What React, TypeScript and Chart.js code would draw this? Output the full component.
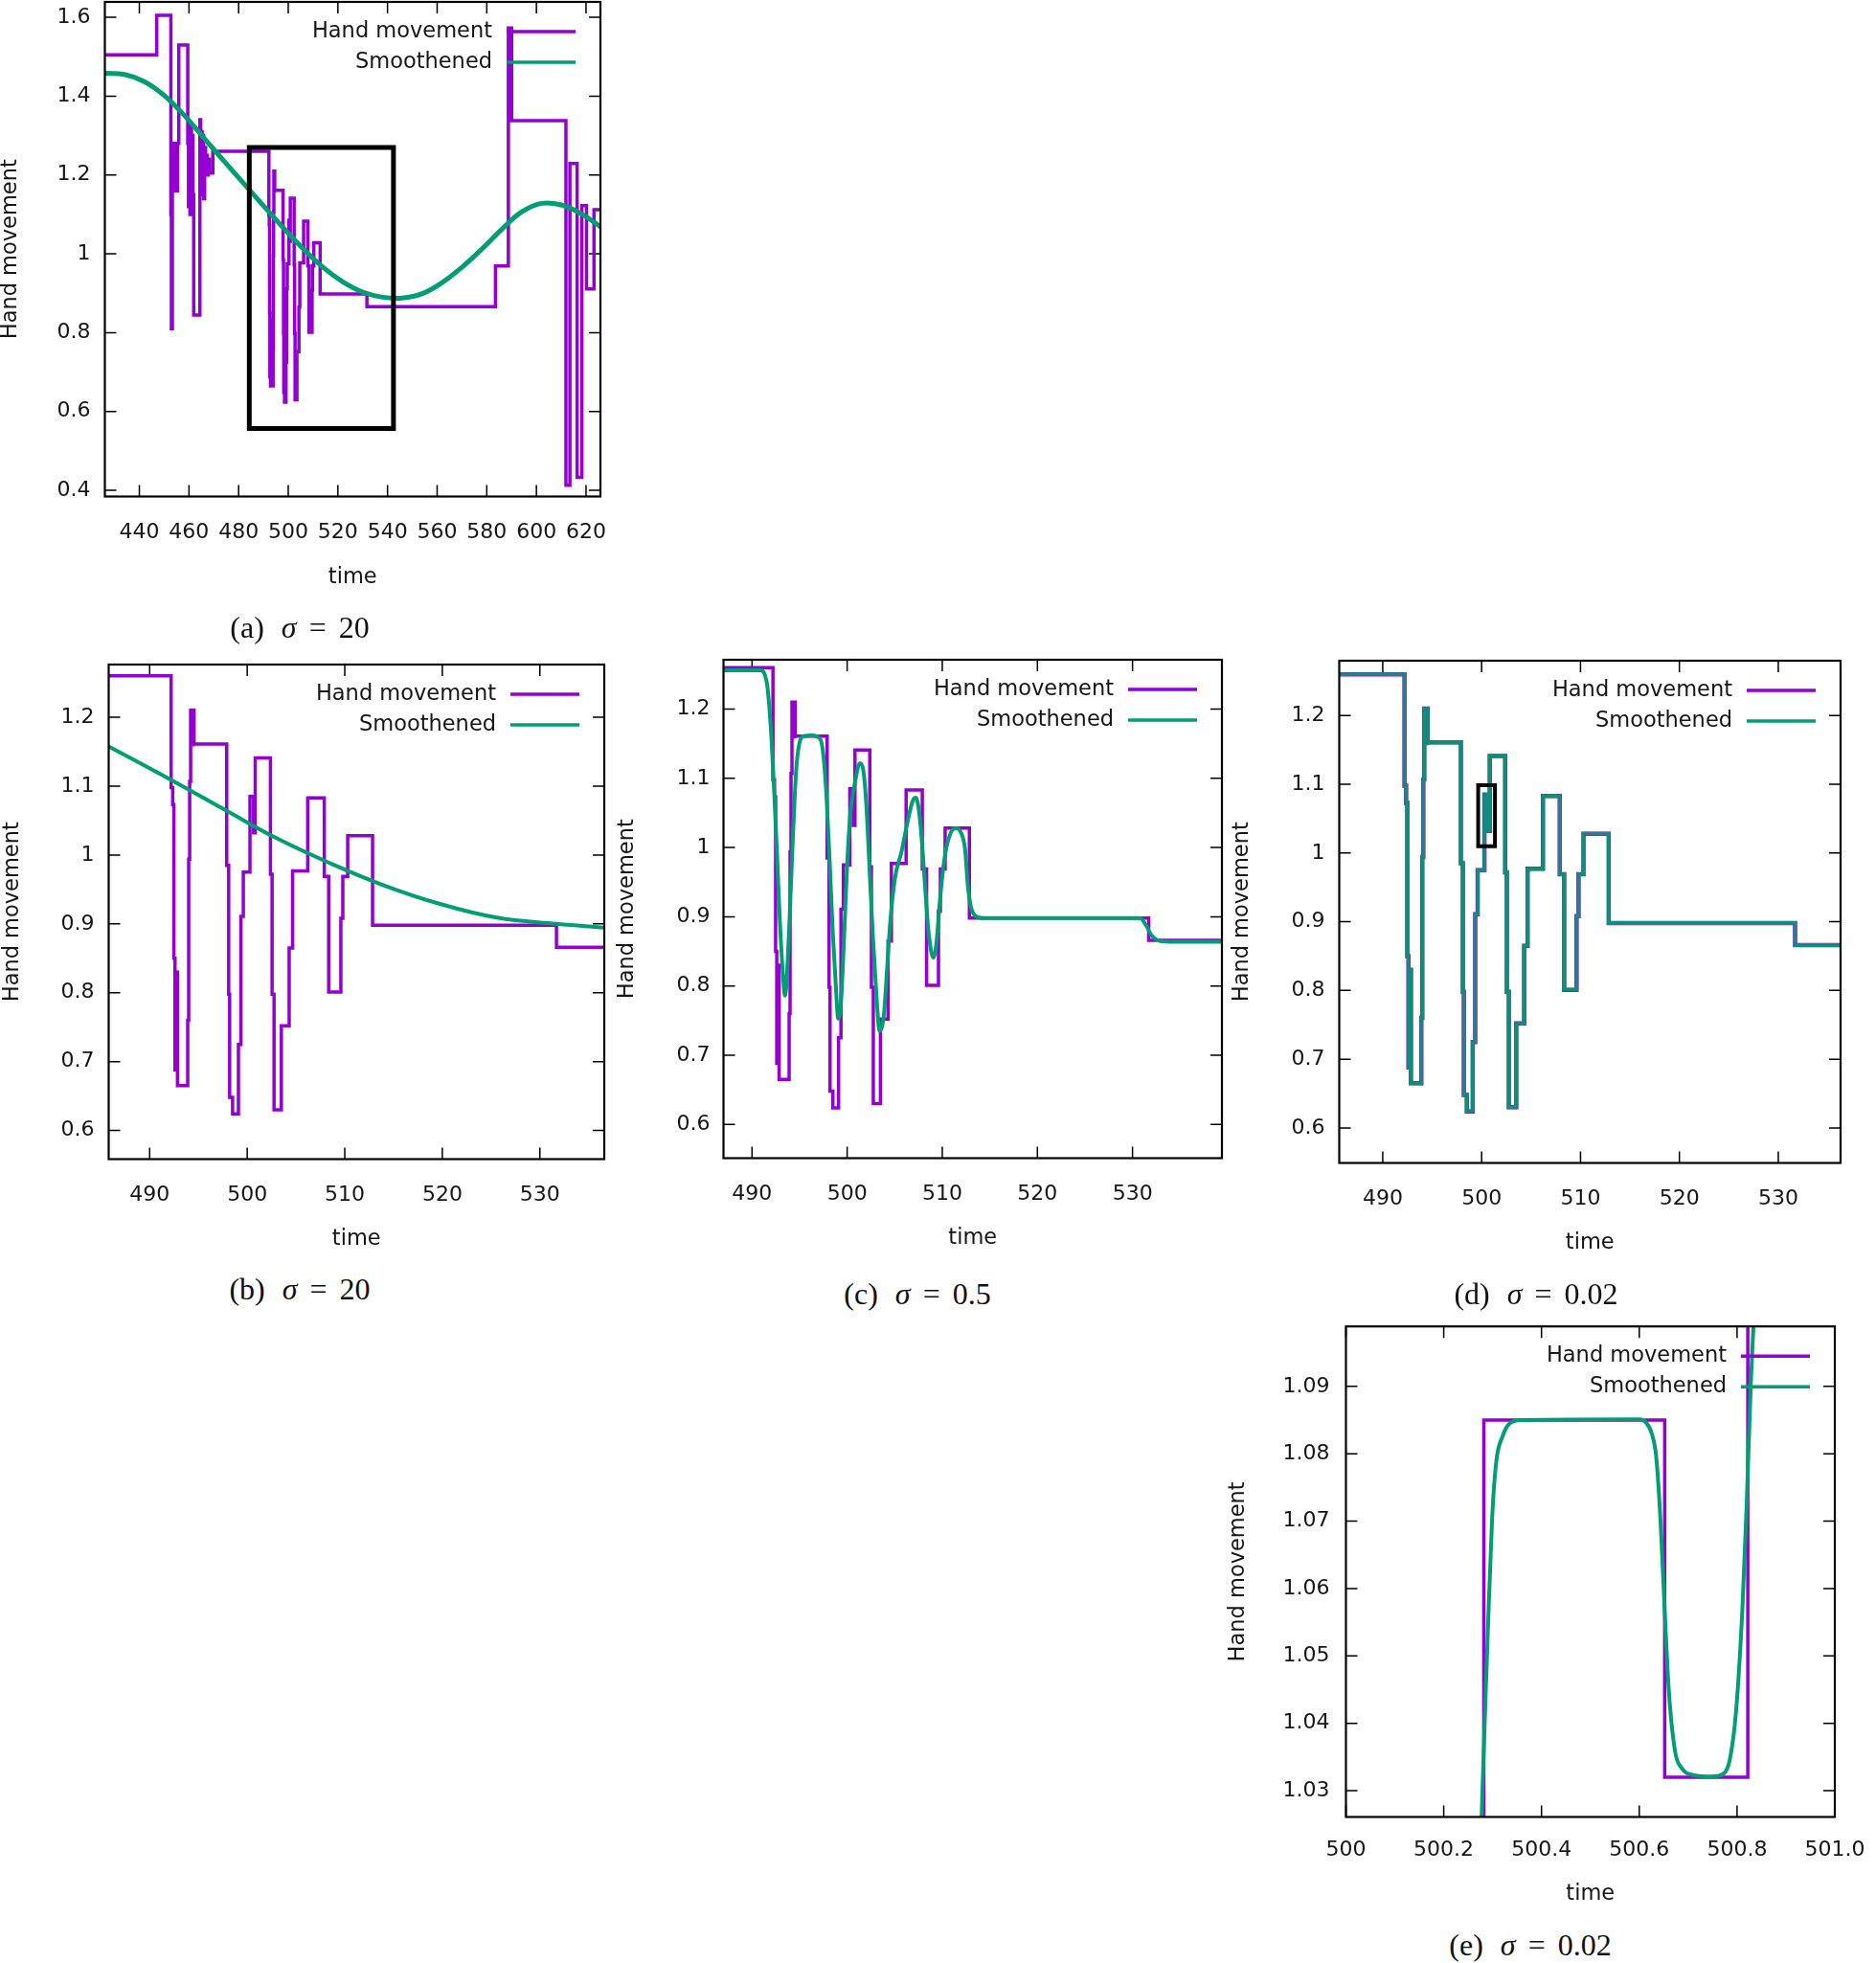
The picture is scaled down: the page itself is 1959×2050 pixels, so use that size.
import React, { useEffect, useRef } from 'react';
import { Chart, registerables } from 'chart.js';

Chart.register(...registerables);

const PURPLE = '#9400D3';
const GREEN = '#009E73';
const GREEN_OVER = 'rgba(0, 158, 115, 0.88)';
const TEXT = '#161616';
const FONT = '"DejaVu Sans", Verdana, sans-serif';

// ---- data -------------------------------------------------------------
// Hand movement: step function, [start time, value held from that time]
const handMovement: [number, number][] = [
  [426.0, 1.505], [447.0, 1.605], [452.7, 1.10], [452.9, 0.81], [453.3, 1.28],
  [454.6, 1.16], [455.4, 1.28], [455.9, 1.53], [459.5, 1.28], [459.8, 1.12],
  [460.1, 1.30], [460.4, 1.10], [460.7, 1.33], [461.0, 1.12], [461.3, 1.30],
  [461.6, 1.15], [461.9, 0.845], [464.4, 1.34], [464.7, 1.15], [465.0, 1.31],
  [465.3, 1.18], [465.6, 1.30], [465.9, 1.14], [466.3, 1.27], [466.7, 1.21],
  [467.0, 1.25], [467.4, 1.20], [467.8, 1.24], [468.2, 1.205],
  [469.6, 1.26], [492.2, 1.098], [492.36, 1.073], [492.48, 0.85], [492.6, 0.688],
  [492.7, 0.83], [492.85, 0.665], [493.9, 0.76], [494.0, 0.994], [494.1, 1.107],
  [494.2, 1.21], [494.35, 1.16], [494.45, 1.21], [494.55, 1.161], [497.9, 0.985],
  [498.1, 0.798], [498.2, 0.648], [498.5, 0.624], [499.1, 0.725], [499.35, 0.911],
  [499.6, 0.975], [500.282, 1.085], [500.652, 1.032], [500.822, 1.141], [502.38, 0.972],
  [502.55, 0.798], [502.75, 0.63], [503.5, 0.752], [504.3, 0.865], [504.65, 0.977],
  [506.2, 1.083], [507.9, 0.969], [508.35, 0.801], [509.6, 0.908], [509.8, 0.969],
  [510.3, 1.028], [512.85, 0.898], [531.7, 0.866], [583.5, 0.969], [588.7, 1.573],
  [590.0, 1.338], [611.9, 0.413], [613.5, 1.229], [616.4, 0.433], [618.3, 1.122],
  [620.2, 0.911], [623.2, 1.112], [627.0, 1.112],
];

// Smoothened, sigma = 20 (wide view, panel a)
const smoothSigma20Wide: [number, number][] = [
  [426, 1.458], [434, 1.455], [442, 1.437], [450, 1.402], [458, 1.352],
  [466, 1.294], [474, 1.236], [482, 1.179], [490, 1.122], [498, 1.066],
  [506, 1.013], [514, 0.966], [522, 0.929], [530, 0.903], [538, 0.890],
  [546, 0.888], [554, 0.899], [562, 0.927], [570, 0.966], [578, 1.012],
  [586, 1.062], [594, 1.106], [602, 1.128], [610, 1.124], [618, 1.102],
  [626, 1.068],
];

// Smoothened, sigma = 20 (zoomed view, panel b)
const smoothSigma20Zoom: [number, number][] = [
  [485.5, 1.160], [492.2, 1.109], [497.9, 1.064], [503.2, 1.023], [508.5, 0.988],
  [513.8, 0.957], [519.5, 0.930], [525.6, 0.909], [531.7, 0.900], [537.0, 0.894],
];

// Smoothened, sigma = 0.5 (panel c)
const smoothSigma05: [number, number][] = [
  [486.5, 1.256], [490.9, 1.256], [491.28, 1.252], [491.61, 1.233], [491.95, 1.178],
  [492.28, 1.095], [492.62, 0.993], [492.95, 0.887], [493.29, 0.809], [493.46, 0.786],
  [493.62, 0.804], [493.96, 0.901], [494.30, 1.016], [494.63, 1.109], [494.97, 1.150],
  [495.47, 1.161], [496.31, 1.162], [497.15, 1.157], [497.48, 1.136], [497.82, 1.076],
  [498.15, 0.984], [498.49, 0.878], [498.83, 0.795], [499.06, 0.753], [499.33, 0.772],
  [499.66, 0.864], [500.00, 0.975], [500.34, 1.049], [500.84, 1.095], [501.34, 1.122],
  [501.68, 1.113], [502.01, 1.063], [502.35, 0.970], [502.68, 0.878], [503.02, 0.800],
  [503.42, 0.735], [503.86, 0.758], [504.19, 0.823], [504.53, 0.892], [505.03, 0.956],
  [505.70, 0.993], [506.38, 1.039], [506.88, 1.067], [507.21, 1.072], [507.55, 1.053],
  [507.89, 1.003], [508.22, 0.938], [508.56, 0.878], [509.06, 0.841], [509.40, 0.864],
  [509.73, 0.920], [510.23, 0.984], [510.74, 1.016], [511.41, 1.028], [511.91, 1.023],
  [512.40, 0.997], [512.67, 0.948], [513.00, 0.915], [513.50, 0.901], [514.30, 0.898],
  [530.78, 0.898], [531.45, 0.887], [531.95, 0.874], [532.62, 0.866], [533.80, 0.864],
  [540.0, 0.864],
];

// Smoothened, sigma = 0.02 (close-up, panel e)
const smoothSigma002Close: [number, number][] = [
  [500.270, 1.012], [500.2775, 1.0261], [500.2818, 1.0358], [500.2904, 1.0540],
  [500.2990, 1.0704], [500.3076, 1.0789], [500.3205, 1.0826], [500.3334, 1.0844],
  [500.3592, 1.0850], [500.6002, 1.0851], [500.6131, 1.0847], [500.6260, 1.0829],
  [500.6346, 1.0796], [500.6432, 1.0704], [500.6518, 1.0571], [500.6604, 1.0449],
  [500.6733, 1.0358], [500.6862, 1.0334], [500.7120, 1.0323], [500.7465, 1.0321],
  [500.7723, 1.0325], [500.7852, 1.0346], [500.7981, 1.0419], [500.8110, 1.0571],
  [500.8196, 1.0723], [500.8282, 1.0905], [500.8340, 1.0996], [500.840, 1.110],
];

// Zoom-region boxes (data coordinates)
const boxA_x = [484.3, 542.4];
const boxA_y = [0.557, 1.270];
const boxD_x = [499.65, 501.35];
const boxD_y = [1.010, 1.0985];

// Tick values and labels
const ticksXWide = [440, 460, 480, 500, 520, 540, 560, 580, 600, 620];
const ticksYWide = [0.4, 0.6, 0.8, 1.0, 1.2, 1.4, 1.6];
const labelsYWide = ['0.4', '0.6', '0.8', '1', '1.2', '1.4', '1.6'];
const ticksXZoom = [490, 500, 510, 520, 530];
const ticksYZoom = [0.6, 0.7, 0.8, 0.9, 1.0, 1.1, 1.2];
const labelsYZoom = ['0.6', '0.7', '0.8', '0.9', '1', '1.1', '1.2'];
const ticksXClose = [500, 500.2, 500.4, 500.6, 500.8, 501.0];
const labelsXClose = ['500', '500.2', '500.4', '500.6', '500.8', '501.0'];
const ticksYClose = [1.03, 1.04, 1.05, 1.06, 1.07, 1.08, 1.09];
const labelsYClose = ['1.03', '1.04', '1.05', '1.06', '1.07', '1.08', '1.09'];

const captionTags = ['(a)', '(b)', '(c)', '(d)', '(e)'];
const captionSigmas = ['20', '20', '0.5', '0.02', '0.02'];

// ---- helpers ----------------------------------------------------------
const toPts = (arr: [number, number][]) => arr.map(([x, y]) => ({ x, y }));
const boxPts = (bx: number[], by: number[]) => [
  { x: bx[0], y: by[0] }, { x: bx[0], y: by[1] }, { x: bx[1], y: by[1] },
  { x: bx[1], y: by[0] }, { x: bx[0], y: by[0] },
];

const handDS = (w: number) => ({
  data: toPts(handMovement), borderColor: PURPLE, borderWidth: w, stepped: true,
  pointRadius: 0, fill: false, order: 2,
});
const smoothDS = (arr: [number, number][], w: number, mono: boolean) => ({
  data: toPts(arr), borderColor: GREEN, borderWidth: w,
  cubicInterpolationMode: mono ? 'monotone' : 'default', tension: mono ? 0 : 0.4,
  pointRadius: 0, fill: false, order: 1,
});
const stepSmoothDS = (w: number) => ({
  data: toPts(handMovement), borderColor: GREEN_OVER, borderWidth: w, stepped: true,
  pointRadius: 0, fill: false, order: 1,
});
const boxDS = (bx: number[], by: number[], w: number) => ({
  data: boxPts(bx, by), borderColor: '#000', borderWidth: w, tension: 0,
  borderCapStyle: 'square', borderJoinStyle: 'miter', pointRadius: 0, fill: false, order: 0,
});

interface PanelSpec {
  frame: [number, number, number, number];
  xRange: [number, number];
  yRange: [number, number];
  xTicks: number[];
  xLabels: string[];
  yTicks: number[];
  yLabels: string[];
  yTitleOff: number;
  xTitleOff: number;
  yLabelPad: number;
  xLabelPad: number;
  datasets: any[];
  caption: number;
  captionCenter: [number, number];
}

const fmt = (a: number[]) => a.map((v) => String(v));

const panels: PanelSpec[] = [
  {
    frame: [109, 2, 626, 518], xRange: [426.1, 625.8], yRange: [0.3845, 1.639],
    xTicks: ticksXWide, xLabels: fmt(ticksXWide), yTicks: ticksYWide, yLabels: labelsYWide,
    yTitleOff: 98, xTitleOff: 85, yLabelPad: 15, xLabelPad: 24.5,
    datasets: [handDS(3.5), smoothDS(smoothSigma20Wide, 5, false), boxDS(boxA_x, boxA_y, 5)],
    caption: 0, captionCenter: [313, 655],
  },
  {
    frame: [113, 694, 630, 1210], xRange: [485.8, 536.6], yRange: [0.5584, 1.2765],
    xTicks: ticksXZoom, xLabels: fmt(ticksXZoom), yTicks: ticksYZoom, yLabels: labelsYZoom,
    yTitleOff: 100, xTitleOff: 84, yLabelPad: 15, xLabelPad: 24.5,
    datasets: [handDS(3.5), smoothDS(smoothSigma20Zoom, 4, false)],
    caption: 1, captionCenter: [313, 1346],
  },
  {
    frame: [755, 689, 1275, 1209], xRange: [487.0, 539.4], yRange: [0.5512, 1.2713],
    xTicks: ticksXZoom, xLabels: fmt(ticksXZoom), yTicks: ticksYZoom, yLabels: labelsYZoom,
    yTitleOff: 100, xTitleOff: 84, yLabelPad: 14, xLabelPad: 24.5,
    datasets: [handDS(3.5), smoothDS(smoothSigma05, 4, true)],
    caption: 2, captionCenter: [958, 1351],
  },
  {
    frame: [1398, 690, 1921, 1214], xRange: [485.6, 536.3], yRange: [0.549, 1.2798],
    xTicks: ticksXZoom, xLabels: fmt(ticksXZoom), yTicks: ticksYZoom, yLabels: labelsYZoom,
    yTitleOff: 101, xTitleOff: 84, yLabelPad: 15, xLabelPad: 24.5,
    datasets: [handDS(4.5), stepSmoothDS(3.8), boxDS(boxD_x, boxD_y, 4)],
    caption: 3, captionCenter: [1604, 1351],
  },
  {
    frame: [1405, 1385, 1915, 1897], xRange: [500, 501.0], yRange: [1.0261, 1.0989],
    xTicks: ticksXClose, xLabels: labelsXClose, yTicks: ticksYClose, yLabels: labelsYClose,
    yTitleOff: 112, xTitleOff: 81, yLabelPad: 17, xLabelPad: 22,
    datasets: [handDS(3.5), smoothDS(smoothSigma002Close, 4, true)],
    caption: 4, captionCenter: [1598, 2031],
  },
];

const PAD_TOP = 30;
const PAD_RIGHT = 80;
const TICK_LEN = 12;
const TICK_FONT = 22;
const TITLE_FONT = 22.5;

function makeFramePlugin(spec: PanelSpec) {
  return {
    id: 'gnuplotFrame',
    beforeDatasetsDraw(chart: any) {
      const { ctx, chartArea, scales } = chart;
      const { left, top, right, bottom } = chartArea;
      ctx.save();
      ctx.strokeStyle = '#000';
      ctx.lineWidth = 1.5;
      ctx.beginPath();
      for (const v of spec.xTicks) {
        const px = scales.x.getPixelForValue(v);
        ctx.moveTo(px, bottom); ctx.lineTo(px, bottom - TICK_LEN);
        ctx.moveTo(px, top); ctx.lineTo(px, top + TICK_LEN);
      }
      for (const v of spec.yTicks) {
        const py = scales.y.getPixelForValue(v);
        ctx.moveTo(left, py); ctx.lineTo(left + TICK_LEN, py);
        ctx.moveTo(right, py); ctx.lineTo(right - TICK_LEN, py);
      }
      ctx.stroke();
      ctx.restore();
    },
    afterDatasetsDraw(chart: any) {
      const { ctx, chartArea } = chart;
      const { left, top, right, bottom } = chartArea;
      ctx.save();
      ctx.strokeStyle = '#000';
      ctx.lineWidth = 2.2;
      ctx.strokeRect(left, top, right - left, bottom - top);
      // key
      const rows: [string, string, number][] = [
        ['Hand movement', PURPLE, 31],
        ['Smoothened', GREEN, 63],
      ];
      ctx.font = `${TITLE_FONT}px ${FONT}`;
      ctx.textAlign = 'right';
      ctx.textBaseline = 'middle';
      for (const [label, color, dy] of rows) {
        ctx.fillStyle = TEXT;
        ctx.fillText(label, right - 113, top + dy);
        ctx.strokeStyle = color;
        ctx.lineWidth = 3.5;
        ctx.beginPath();
        ctx.moveTo(right - 98, top + dy);
        ctx.lineTo(right - 26, top + dy);
        ctx.stroke();
      }
      ctx.restore();
    },
  };
}

function Panel({ spec }: { spec: PanelSpec }) {
  const ref = useRef<HTMLCanvasElement | null>(null);
  const [L, T, R, B] = spec.frame;
  const half = (TITLE_FONT * 1.2) / 2;
  const yW = spec.yTitleOff + half;
  const xH = spec.xTitleOff + half;
  const cw = Math.round(R - L + yW + PAD_RIGHT);
  const ch = Math.round(B - T + PAD_TOP + xH);
  const cLeft = L - yW;
  const cTop = T - PAD_TOP;

  useEffect(() => {
    if (!ref.current) return;
    const chart = new Chart(ref.current, {
      type: 'line',
      data: { datasets: spec.datasets },
      options: {
        animation: false,
        responsive: false,
        maintainAspectRatio: false,
        devicePixelRatio: 1,
        layout: { padding: { left: 0, top: PAD_TOP, right: PAD_RIGHT, bottom: 0 } },
        plugins: { legend: { display: false }, tooltip: { enabled: false } },
        elements: { point: { radius: 0 } },
        scales: {
          x: {
            type: 'linear',
            min: spec.xRange[0],
            max: spec.xRange[1],
            grid: { display: false, drawTicks: false, tickLength: 0 },
            border: { display: false },
            afterBuildTicks: (s: any) => { s.ticks = spec.xTicks.map((v) => ({ value: v })); },
            afterFit: (s: any) => { s.height = xH; },
            ticks: {
              autoSkip: false, maxRotation: 0, padding: spec.xLabelPad, color: TEXT,
              font: { family: FONT, size: TICK_FONT },
              callback: (_v: any, i: number) => spec.xLabels[i],
            },
            title: { display: true, text: 'time', color: TEXT, padding: 0, font: { family: FONT, size: TITLE_FONT } },
          },
          y: {
            type: 'linear',
            min: spec.yRange[0],
            max: spec.yRange[1],
            grid: { display: false, drawTicks: false, tickLength: 0 },
            border: { display: false },
            afterBuildTicks: (s: any) => { s.ticks = spec.yTicks.map((v) => ({ value: v })); },
            afterFit: (s: any) => { s.width = yW; },
            ticks: {
              autoSkip: false, padding: spec.yLabelPad, color: TEXT,
              font: { family: FONT, size: TICK_FONT },
              callback: (_v: any, i: number) => spec.yLabels[i],
            },
            title: { display: true, text: 'Hand movement', color: TEXT, padding: 0, font: { family: FONT, size: TITLE_FONT } },
          },
        },
      } as any,
      plugins: [makeFramePlugin(spec)],
    } as any);
    return () => chart.destroy();
  }, [spec]);

  return (
    <canvas
      ref={ref}
      width={cw}
      height={ch}
      style={{ position: 'absolute', left: cLeft, top: cTop, width: cw, height: ch }}
    />
  );
}

function Caption({ index, center }: { index: number; center: [number, number] }) {
  return (
    <div
      style={{
        position: 'absolute', left: center[0] - 150, top: center[1] - 19, width: 300,
        textAlign: 'center', lineHeight: '38px', fontSize: 32, color: '#111',
        fontFamily: '"Liberation Serif", "DejaVu Serif", serif', whiteSpace: 'nowrap',
      }}
    >
      <span>{captionTags[index]}</span>
      <span style={{ marginLeft: 18, fontStyle: 'italic' }}>σ</span>
      <span style={{ margin: '0 13px' }}>=</span>
      <span>{captionSigmas[index]}</span>
    </div>
  );
}

export default function App() {
  return (
    <div style={{ position: 'absolute', left: 0, top: 0, width: 1959, height: 2050, background: '#fff', overflow: 'hidden' }}>
      {panels.map((p, i) => (
        <Panel key={i} spec={p} />
      ))}
      {panels.map((p, i) => (
        <Caption key={'c' + i} index={p.caption} center={p.captionCenter} />
      ))}
    </div>
  );
}
